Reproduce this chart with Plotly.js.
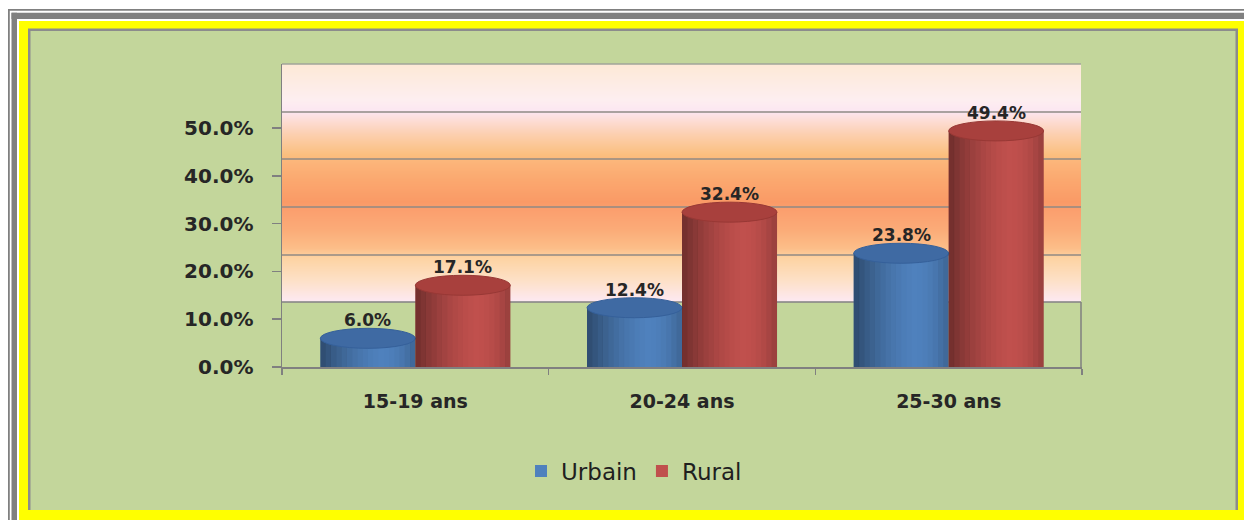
<!DOCTYPE html>
<html>
<head>
<meta charset="utf-8">
<script src="https://cdn.plot.ly/plotly-3.0.1.min.js"></script>
<style>html,body{margin:0;padding:0;background:#fff;}#chart{width:1244px;height:520px;}</style>
</head>
<body>
<div id="chart"></div>
<script>
// ---- data ----
const categories = ['15-19 ans', '20-24 ans', '25-30 ans'];
const urbain = [0.060, 0.124, 0.238];
const rural = [0.171, 0.324, 0.494];
const seriesNames = ['Urbain', 'Rural'];
const yTickVals = [0, 0.1, 0.2, 0.3, 0.4, 0.5];

// ---- layout geometry (pixels) ----
const W = 1244, H = 520, L = 282, R = 162, T = 64, B = 153;
const PW = W - L - R, PH = H - T - B;
const YMAX = 0.634;
const BARGAP = 0.2875;
const BW = (1 - BARGAP) / 2;
function px(x) { return (x - L) / PW; }
function py(y) { return (H - B - y) / PH; }

const shapes = [];
function prect(x0, y0, x1, y1, fill) {
  shapes.push({type: 'rect', xref: 'paper', yref: 'paper', x0: px(x0), x1: px(x1), y0: py(y1), y1: py(y0),
    fillcolor: fill, line: {width: 0}, layer: 'below'});
}
function pline(x0, y0, x1, y1, color, w) {
  shapes.push({type: 'line', xref: 'paper', yref: 'paper', x0: px(x0), x1: px(x1), y0: py(y0), y1: py(y1),
    line: {color: color, width: w}, layer: 'below'});
}
function hex2rgb(h) { return [parseInt(h.substr(1,2),16), parseInt(h.substr(3,2),16), parseInt(h.substr(5,2),16)]; }
function lerpColor(stops, y) {
  for (let i = 0; i < stops.length - 1; i++) {
    const [ya, ca] = stops[i], [yb, cb] = stops[i+1];
    if (y >= ya && y <= yb) {
      const t = (y - ya) / (yb - ya), a = hex2rgb(ca), b = hex2rgb(cb);
      return 'rgb(' + a.map((v, k) => Math.round(v + (b[k] - v) * t)).join(',') + ')';
    }
  }
  return stops[stops.length-1][1];
}

// ---- outer frame ----
prect(8, 9, 1244, 10.7, '#808080');
prect(8, 9, 9.8, 520, '#808080');
prect(11.5, 12.7, 1244, 19, '#808080');
prect(11.5, 12.7, 17, 520, '#808080');
prect(19, 21, 1244, 520, '#ffff00');
prect(28, 28.5, 1238, 510, '#8c8c8c');
prect(30.5, 31, 1235.5, 510, '#c3d69b');

// ---- back wall gradient ----
const wallStops = [[64,'#fde9d6'],[100,'#fdeef0'],[112,'#fce6f2'],[116,'#fde1e2'],[135,'#fccfae'],[155,'#fbbf7e'],
  [162,'#fcb57a'],[180,'#fba86f'],[202,'#fa9a66'],[210,'#fb9f6e'],[230,'#fbab78'],[248,'#fcbd88'],[258,'#fdd3a2'],
  [280,'#fde0c6'],[302,'#fde9f3']];
for (let y = 64; y < 302; y++) prect(282, y, 1081, y + 1.2, lerpColor(wallStops, y + 0.5));
pline(282, 64, 1081, 64, '#a0a49a', 1.5);
[112, 159, 207, 255].forEach(y => pline(282, y, 1081, y, '#8f8a84', 1.5));
pline(282, 302, 1081, 302, '#7f7f7f', 1.5);
pline(1081, 302, 1081, 367, '#7f7f7f', 1.5);

// ---- cylinder shading & caps (data coordinates) ----
const EH = 10 / (PH / YMAX);
const capFill = ['#3f6aa3', '#a8403d'];
const capLine = ['#35609a', '#983835'];
[urbain, rural].forEach((vals, s) => {
  vals.forEach((v, i) => {
    const xl = s === 0 ? i - BW : i, xr = xl + BW;
    const N = 18;
    for (let k = 0; k < N; k++) {
      const t = (k + 0.5) / N;
      let a;
      if (t < 0.65) a = 0.42 * Math.pow(1 - t / 0.65, 1.6);
      else a = 0.22 * Math.pow((t - 0.65) / 0.35, 2);
      shapes.push({type: 'rect', xref: 'x', yref: 'y', x0: xl + BW * k / N, x1: xl + BW * (k + 1) / N + 0.0005,
        y0: 0, y1: v, fillcolor: 'rgba(0,0,0,' + a.toFixed(3) + ')', line: {width: 0}, layer: 'above'});
    }
    shapes.push({type: 'circle', xref: 'x', yref: 'y', x0: xl, x1: xr, y0: v - EH, y1: v + EH,
      fillcolor: capFill[s], line: {color: capLine[s], width: 1}, layer: 'above'});
  });
});

// ---- value labels ----
const annotations = [];
[urbain, rural].forEach((vals, s) => {
  vals.forEach((v, i) => {
    annotations.push({x: s === 0 ? i - BW / 2 : i + BW / 2, y: v, xref: 'x', yref: 'y', yshift: 18,
      text: (v * 100).toFixed(1) + '%', showarrow: false, yanchor: 'middle',
      font: {family: 'DejaVu Sans', size: 17, color: '#262626', weight: 'bold'}});
  });
});

const traces = [
  {type: 'bar', name: seriesNames[0], x: categories, y: urbain, marker: {color: '#4f81bd', line: {width: 0}}, hoverinfo: 'none'},
  {type: 'bar', name: seriesNames[1], x: categories, y: rural, marker: {color: '#c0504d', line: {width: 0}}, hoverinfo: 'none'}
];

const layout = {
  width: W, height: H,
  margin: {l: L, r: R, t: T, b: B, pad: 0},
  paper_bgcolor: '#ffffff',
  plot_bgcolor: 'rgba(0,0,0,0)',
  barmode: 'group', bargap: BARGAP, bargroupgap: 0,
  showlegend: true,
  legend: {orientation: 'h', x: px(634), y: py(471), xanchor: 'center', yanchor: 'middle',
    font: {family: 'DejaVu Sans', size: 23, color: '#1f1f1f'}, bgcolor: 'rgba(0,0,0,0)', itemwidth: 30},
  xaxis: {type: 'category', range: [-0.5, 2.5], showline: true, linecolor: '#808080', linewidth: 1.5,
    ticks: 'outside', tickson: 'boundaries', ticklen: 6, tickcolor: '#808080', tickwidth: 1.5,
    showgrid: false, zeroline: false, ticklabelstandoff: 17,
    tickfont: {family: 'DejaVu Sans', size: 19, color: '#262626', weight: 'bold'}},
  yaxis: {range: [0, YMAX], tickvals: yTickVals, tickformat: '.1%', showline: true, linecolor: '#808080', linewidth: 1.5,
    ticks: 'outside', ticklen: 9, tickcolor: '#808080', tickwidth: 1.5, showgrid: false, zeroline: false,
    ticklabelstandoff: 14,
    tickfont: {family: 'DejaVu Sans', size: 20, color: '#262626', weight: 'bold'}},
  shapes: shapes,
  annotations: annotations
};

Plotly.newPlot('chart', traces, layout, {displayModeBar: false, staticPlot: true});
</script>
</body>
</html>
